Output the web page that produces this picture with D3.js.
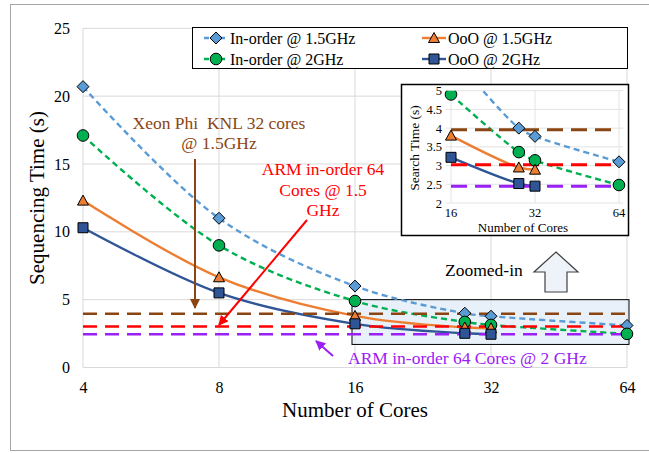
<!DOCTYPE html>
<html><head><meta charset="utf-8">
<script src="https://cdn.jsdelivr.net/npm/d3@7"></script>
<style>
html,body{margin:0;padding:0;background:#fff;}
svg text{font-family:"Liberation Serif","Times New Roman",serif;}
</style></head>
<body><svg id="c" width="649" height="453"></svg>
<script>
const cores = [4, 8, 16, 28, 32, 64];
const xTicks = [4, 8, 16, 32, 64];
const yTicks = [0, 5, 10, 15, 20, 25];
const insetYTicks = [2, 2.5, 3, 3.5, 4, 4.5, 5];
const insetXTicks = [16, 32, 64];
const seriesNames = ["In-order @ 1.5GHz", "In-order @ 2GHz", "OoO @ 1.5GHz", "OoO @ 2GHz"];
const inorder15 = [20.7, 11.0, 6.0, 4.0, 3.78, 3.1];
const inorder2 = [17.1, 9.0, 4.9, 3.36, 3.14, 2.48];
const ooo15 = [12.3, 6.65, 3.8, 2.95, 2.89, null];
const ooo2 = [10.3, 5.5, 3.22, 2.52, 2.45, null];
const refNames = ["Xeon Phi  KNL 32 cores @ 1.5GHz", "ARM in-order 64 Cores @ 1.5 GHz", "ARM in-order 64 Cores @ 2 GHz"];
const refValues = [3.96, 3.02, 2.45];

const seriesStyle = [
  {color:"#5B9BD5", dash:"6,4", marker:"diamond"},
  {color:"#00B050", dash:"6,4", marker:"circle"},
  {color:"#ED7D31", dash:null, marker:"triangle"},
  {color:"#2F5597", dash:null, marker:"square"}
];
const refColors = ["#8B4513", "#FF0000", "#9B20F5"];
const seriesValues = [inorder15, inorder2, ooo15, ooo2];
const series = seriesValues.map((vals, i) => ({
  name: seriesNames[i], style: seriesStyle[i],
  pts: cores.map((c, j) => ({x: c, y: vals[j]})).filter(p => p.y != null)
}));

const svg = d3.select("#c");
const defs = svg.append("defs");
refColors.forEach((c, i) => {
  defs.append("marker").attr("id", "ah" + i).attr("viewBox", "0 0 10 10")
    .attr("refX", 9).attr("refY", 5).attr("markerWidth", 5).attr("markerHeight", 5)
    .attr("markerUnits", "strokeWidth").attr("orient", "auto")
    .append("path").attr("d", "M0,0 L10,5 L0,10 Z").attr("fill", c);
});

function markerPath(type) {
  const s = 5.5;
  if (type === "diamond") return `M0,${-s-0.5}L${s+0.5},0L0,${s+0.5}L${-s-0.5},0Z`;
  if (type === "triangle") return `M0,${-s}L${s},${s-1}L${-s},${s-1}Z`;
  if (type === "square") return `M${-s+0.5},${-s+0.5}H${s-0.5}V${s-0.5}H${-s+0.5}Z`;
  return d3.symbol().type(d3.symbolCircle).size(Math.PI * 5.8 * 5.8)();
}

// outer frame
svg.append("rect").attr("x", 10.5).attr("y", 4.5).attr("width", 645).attr("height", 446)
  .attr("fill", "none").attr("stroke", "#A6A6A6").attr("stroke-width", 1);

// main scales
const x = d3.scaleLog().base(2).domain([4, 64]).range([83, 627]);
const y = d3.scaleLinear().domain([0, 25]).range([367.5, 28.3]);

const g = svg.append("g");
g.selectAll(".hg").data(yTicks).join("line")
  .attr("x1", x(4)).attr("x2", x(64)).attr("y1", d => y(d)).attr("y2", d => y(d))
  .attr("stroke", "#D9D9D9").attr("stroke-width", 1);
g.selectAll(".vg").data(xTicks).join("line")
  .attr("y1", y(0)).attr("y2", y(25)).attr("x1", d => x(d)).attr("x2", d => x(d))
  .attr("stroke", "#D9D9D9").attr("stroke-width", 1);

const yAxis = d3.axisLeft(y).tickValues(yTicks).tickSize(0).tickPadding(13).tickFormat(d3.format("d"));
const ya = svg.append("g").attr("transform", `translate(${x(4)},0)`).call(yAxis);
const xAxis = d3.axisBottom(x).tickValues(xTicks).tickSize(0).tickPadding(14).tickFormat(d3.format("d"));
const xa = svg.append("g").attr("transform", `translate(0,${y(0)})`).call(xAxis);
[ya, xa].forEach(a => {
  a.select(".domain").remove();
  a.selectAll("text").attr("font-size", 16).attr("fill", "#000")
    .style("font-family", "'Liberation Serif', serif");
});
svg.append("text").attr("x", 355).attr("y", 417).attr("text-anchor", "middle")
  .attr("font-size", 21).text("Number of Cores");
svg.append("text").attr("transform", `translate(44,198) rotate(-90)`).attr("text-anchor", "middle")
  .attr("font-size", 21).text("Sequencing Time (s)");

svg.append("rect").attr("x", x(16) - 3).attr("y", y(5)).attr("width", x(64) - x(16) + 5)
  .attr("height", y(1.7) - y(5)).attr("fill", "#DEEBF7").attr("fill-opacity", 0.7)
  .attr("stroke", "#000").attr("stroke-width", 1);

function drawSeries(parent, xs, ys, data, refX0, refX1, refW, refDash) {
  const line = d3.line().x(d => xs(d.x)).y(d => ys(d.y)).curve(d3.curveCatmullRom.alpha(0.5));
  data.forEach(s => {
    parent.append("path").attr("d", line(s.pts)).attr("fill", "none")
      .attr("stroke", s.style.color).attr("stroke-width", 2.4)
      .attr("stroke-dasharray", s.style.dash);
  });
  refValues.forEach((v, i) => {
    parent.append("line").attr("x1", refX0).attr("x2", refX1).attr("y1", ys(v)).attr("y2", ys(v))
      .attr("stroke", refColors[i]).attr("stroke-width", refW).attr("stroke-dasharray", refDash);
  });
  data.forEach(s => {
    parent.selectAll(null).data(s.pts).join("path")
      .attr("d", markerPath(s.style.marker))
      .attr("transform", d => `translate(${xs(d.x)},${ys(d.y)})`)
      .attr("fill", s.style.color).attr("stroke", "#000").attr("stroke-width", 1);
  });
}
drawSeries(svg.append("g"), x, y, series, x(4), x(64), 2.5, "14,8");

// legend
const lg = svg.append("g");
lg.append("rect").attr("x", 192.5).attr("y", 27.5).attr("width", 435).attr("height", 41)
  .attr("fill", "#fff").attr("stroke", "#000").attr("stroke-width", 1);
const legPos = [[204, 38], [204, 59], [422, 38], [422, 59]];
series.forEach((s, i) => {
  const [lx, ly] = legPos[i];
  lg.append("line").attr("x1", lx).attr("x2", lx + 24).attr("y1", ly).attr("y2", ly)
    .attr("stroke", s.style.color).attr("stroke-width", 2.4).attr("stroke-dasharray", s.style.dash ? "5,3" : null);
  lg.append("path").attr("d", markerPath(s.style.marker)).attr("transform", `translate(${lx + 12},${ly})`)
    .attr("fill", s.style.color).attr("stroke", "#000").attr("stroke-width", 1);
  lg.append("text").attr("x", lx + 26).attr("y", ly + 5.5).attr("font-size", 16).text(s.name);
});

// annotations
const ann = svg.append("g");
ann.append("text").attr("x", 219).attr("y", 129).attr("text-anchor", "middle").attr("font-size", 17.5)
  .attr("fill", "#8B4513").style("white-space", "pre").text("Xeon Phi  KNL 32 cores");
ann.append("text").attr("x", 219).attr("y", 149).attr("text-anchor", "middle").attr("font-size", 17.5)
  .attr("fill", "#8B4513").text("@ 1.5GHz");
ann.append("line").attr("x1", 195).attr("y1", 159).attr("x2", 195).attr("y2", 308)
  .attr("stroke", "#8B4513").attr("stroke-width", 2).attr("marker-end", "url(#ah0)");
["ARM in-order 64", "Cores @ 1.5", "GHz"].forEach((t, i) => {
  ann.append("text").attr("x", 323).attr("y", 175 + i * 20.5).attr("text-anchor", "middle")
    .attr("font-size", 17.5).attr("fill", "#FF0000").text(t);
});
ann.append("line").attr("x1", 307).attr("y1", 220).attr("x2", 219).attr("y2", 325)
  .attr("stroke", "#FF0000").attr("stroke-width", 2).attr("marker-end", "url(#ah1)");
ann.append("text").attr("x", 348).attr("y", 364).attr("font-size", 17.5).attr("fill", "#9B20F5")
  .text(refNames[2]);
ann.append("line").attr("x1", 333).attr("y1", 356).attr("x2", 316).attr("y2", 341)
  .attr("stroke", "#9B20F5").attr("stroke-width", 2).attr("marker-end", "url(#ah2)");

svg.append("path").attr("d", "M556,252 L578,272 L567,272 L567,292 L545,292 L545,272 L534,272 Z")
  .attr("fill", "#EEF3FA").attr("stroke", "#404040").attr("stroke-width", 1.2);
svg.append("text").attr("x", 445).attr("y", 276).attr("font-size", 17.5).text("Zoomed-in");

// inset
const ins = svg.append("g");
ins.append("rect").attr("x", 401.5).attr("y", 84.5).attr("width", 227).attr("height", 151)
  .attr("fill", "#fff").attr("stroke", "#000").attr("stroke-width", 1.5);
const ix = d3.scaleLog().base(2).domain([16, 64]).range([451, 619]);
const iy = d3.scaleLinear().domain([2, 5]).range([203, 90.7]);
defs.append("clipPath").attr("id", "iclip").append("rect")
  .attr("x", 440).attr("y", iy(5)).attr("width", 190).attr("height", iy(2) - iy(5) + 8);
ins.selectAll(".ihg").data(insetYTicks).join("line")
  .attr("x1", 446).attr("x2", 623).attr("y1", d => iy(d)).attr("y2", d => iy(d))
  .attr("stroke", "#E3E3E3").attr("stroke-width", 1);
ins.selectAll(".ivg").data(insetXTicks).join("line")
  .attr("x1", d => ix(d)).attr("x2", d => ix(d)).attr("y1", iy(2)).attr("y2", iy(5))
  .attr("stroke", "#E3E3E3").attr("stroke-width", 1);
ins.selectAll(".iyt").data(insetYTicks).join("text")
  .attr("x", 442).attr("y", d => iy(d) + 4.5).attr("text-anchor", "end").attr("font-size", 12.5)
  .text(d => d3.format("")(d));
ins.selectAll(".ixt").data(insetXTicks).join("text")
  .attr("x", d => ix(d)).attr("y", 217).attr("text-anchor", "middle").attr("font-size", 12.5)
  .text(d => d);
ins.append("text").attr("x", 523).attr("y", 231.5).attr("text-anchor", "middle").attr("font-size", 13)
  .text("Number of Cores");
ins.append("text").attr("transform", "translate(419,148) rotate(-90)").attr("text-anchor", "middle")
  .attr("font-size", 13.5).text("Search Time (s)");
const insetSeries = series.map(s => ({...s, pts: s.pts.filter(p => p.x >= 16)}));
const ic = ins.append("g").attr("clip-path", "url(#iclip)");
drawSeries(ic, ix, iy, insetSeries, ix(16), ix(64), 3, "16,8");
</script>
</body></html>
